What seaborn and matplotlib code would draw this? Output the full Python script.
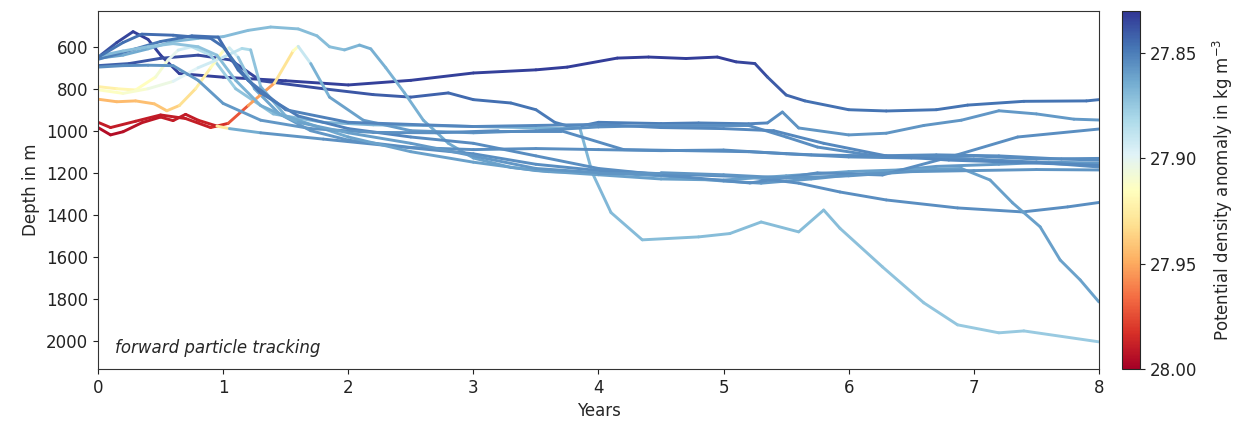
import matplotlib
matplotlib.use("Agg")
import matplotlib.pyplot as plt
import numpy as np
import seaborn as sns
from matplotlib.collections import LineCollection
from matplotlib.colors import Normalize
from matplotlib.cm import ScalarMappable

# (years, depth in m, potential density anomaly)
track_01 = [(0.00, 650, 27.840), (0.15, 580, 27.835), (0.28, 528, 27.833), (0.40, 565, 27.833),
            (0.50, 640, 27.833), (0.65, 728, 27.833), (1.00, 745, 27.833), (1.50, 762, 27.833),
            (2.00, 782, 27.833), (2.50, 760, 27.833), (3.00, 725, 27.833), (3.50, 710, 27.833),
            (3.75, 697, 27.832), (4.15, 654, 27.832), (4.40, 649, 27.832), (4.70, 656, 27.832),
            (4.95, 649, 27.832), (5.10, 672, 27.833), (5.25, 680, 27.835), (5.35, 744, 27.838),
            (5.50, 830, 27.842), (5.65, 858, 27.845), (6.00, 900, 27.847), (6.30, 906, 27.847),
            (6.70, 900, 27.847), (6.95, 878, 27.847), (7.40, 860, 27.847), (7.90, 858, 27.847),
            (8.00, 852, 27.847)]
track_02 = [(0.00, 690, 27.845), (0.25, 680, 27.840), (0.50, 655, 27.838), (0.80, 640, 27.836),
            (1.06, 663, 27.835), (1.30, 762, 27.835), (1.80, 800, 27.838), (2.20, 828, 27.840),
            (2.50, 840, 27.842), (2.80, 820, 27.843), (3.00, 852, 27.845), (3.30, 868, 27.846),
            (3.50, 900, 27.848), (3.65, 960, 27.850), (3.80, 985, 27.850), (4.00, 960, 27.850),
            (4.50, 966, 27.850), (4.80, 963, 27.850), (5.20, 967, 27.852), (5.35, 963, 27.853),
            (5.47, 911, 27.856), (5.60, 987, 27.857), (6.00, 1020, 27.857), (6.30, 1012, 27.857),
            (6.60, 975, 27.857), (6.90, 950, 27.857), (7.20, 905, 27.858), (7.50, 920, 27.858),
            (7.80, 945, 27.858), (8.00, 949, 27.858)]
track_03 = [(0.00, 655, 27.860), (0.20, 640, 27.862), (0.40, 610, 27.865), (0.60, 575, 27.867),
            (0.80, 560, 27.868), (1.00, 552, 27.869), (1.20, 522, 27.870), (1.38, 506, 27.870),
            (1.60, 515, 27.870), (1.75, 548, 27.870), (1.85, 600, 27.870), (1.97, 615, 27.870),
            (2.09, 592, 27.865), (2.18, 610, 27.865), (2.30, 700, 27.866), (2.45, 820, 27.866),
            (2.60, 950, 27.865), (2.80, 1060, 27.864), (3.00, 1130, 27.862), (3.30, 1175, 27.860),
            (3.60, 1195, 27.859), (4.00, 1200, 27.858), (4.50, 1215, 27.858), (5.00, 1240, 27.858),
            (5.30, 1250, 27.858), (5.70, 1230, 27.858), (6.20, 1200, 27.858), (6.70, 1170, 27.858),
            (7.20, 1160, 27.858), (7.60, 1150, 27.858), (8.00, 1154, 27.858)]
track_04 = [(0.00, 790, 27.925), (0.15, 800, 27.922), (0.30, 806, 27.918), (0.46, 744, 27.912),
            (0.56, 663, 27.905), (0.64, 616, 27.898), (0.75, 600, 27.888), (0.90, 640, 27.880),
            (1.10, 800, 27.874), (1.40, 920, 27.870), (1.80, 960, 27.868), (2.20, 972, 27.866),
            (2.60, 975, 27.866), (3.00, 980, 27.866), (3.40, 985, 27.866), (3.70, 990, 27.866),
            (3.85, 985, 27.867), (3.95, 1200, 27.868), (4.10, 1390, 27.869), (4.35, 1520, 27.870),
            (4.80, 1506, 27.870), (5.05, 1490, 27.870), (5.30, 1435, 27.870), (5.60, 1482, 27.870),
            (5.80, 1378, 27.870), (5.93, 1465, 27.871), (6.27, 1649, 27.872), (6.60, 1820, 27.873),
            (6.87, 1925, 27.874), (7.20, 1963, 27.875), (7.40, 1954, 27.875), (8.00, 2006, 27.876)]
track_05 = [(0.00, 850, 27.945), (0.15, 862, 27.945), (0.30, 858, 27.944), (0.45, 872, 27.943),
            (0.55, 905, 27.940), (0.65, 880, 27.935), (0.78, 800, 27.928), (0.90, 700, 27.920),
            (1.00, 620, 27.912), (1.05, 605, 27.905), (1.12, 650, 27.880), (1.25, 800, 27.865),
            (1.45, 920, 27.860), (1.70, 1000, 27.858), (2.00, 1045, 27.857), (2.50, 1080, 27.856),
            (3.00, 1090, 27.855), (3.50, 1085, 27.855), (4.00, 1090, 27.855), (4.50, 1095, 27.855),
            (5.00, 1092, 27.855), (5.50, 1110, 27.855), (6.00, 1125, 27.855), (6.50, 1130, 27.855),
            (7.00, 1120, 27.855), (7.50, 1135, 27.855), (8.00, 1132, 27.855)]
track_06 = [(0.00, 960, 27.990), (0.10, 985, 27.990), (0.30, 955, 27.990), (0.50, 925, 27.990),
            (0.70, 942, 27.990), (0.90, 985, 27.988), (1.04, 965, 27.980), (1.20, 880, 27.965),
            (1.41, 773, 27.940), (1.56, 620, 27.920), (1.60, 598, 27.910), (1.70, 680, 27.870),
            (1.85, 840, 27.862), (2.12, 950, 27.860), (2.50, 1000, 27.858), (3.00, 1010, 27.857),
            (3.50, 1000, 27.856), (4.00, 982, 27.855), (4.50, 975, 27.855), (5.20, 975, 27.855),
            (5.50, 1030, 27.855), (5.75, 1078, 27.855), (6.27, 1125, 27.855), (6.70, 1130, 27.855),
            (7.00, 1135, 27.855), (7.50, 1150, 27.855), (8.00, 1173, 27.855)]
track_07 = [(0.00, 985, 27.995), (0.10, 1020, 27.995), (0.20, 1005, 27.995), (0.35, 962, 27.993),
            (0.50, 935, 27.990), (0.60, 952, 27.990), (0.70, 922, 27.990), (0.80, 950, 27.990),
            (0.95, 978, 27.985), (1.05, 990, 27.870), (1.30, 1010, 27.858), (1.80, 1040, 27.856),
            (2.30, 1070, 27.855), (3.00, 1110, 27.855), (3.50, 1160, 27.855), (4.00, 1190, 27.855),
            (4.50, 1205, 27.855), (5.20, 1220, 27.855), (5.60, 1250, 27.855), (5.93, 1292, 27.855),
            (6.30, 1330, 27.855), (6.87, 1368, 27.855), (7.39, 1387, 27.855), (7.75, 1363, 27.855),
            (8.00, 1342, 27.855)]
track_08 = [(0.00, 805, 27.915), (0.20, 822, 27.913), (0.40, 800, 27.908), (0.60, 765, 27.902),
            (0.80, 700, 27.896), (1.00, 650, 27.890), (1.15, 608, 27.885), (1.22, 615, 27.878),
            (1.30, 790, 27.868), (1.50, 930, 27.864), (2.00, 1030, 27.862), (2.50, 1100, 27.860),
            (3.00, 1150, 27.860), (3.50, 1190, 27.860), (4.00, 1210, 27.860), (4.50, 1230, 27.860),
            (5.00, 1235, 27.860), (5.50, 1215, 27.860), (6.00, 1195, 27.860), (6.50, 1185, 27.860),
            (6.90, 1180, 27.860), (7.13, 1235, 27.860), (7.31, 1344, 27.860), (7.53, 1458, 27.860),
            (7.69, 1616, 27.861), (7.85, 1711, 27.861), (8.00, 1816, 27.861)]
track_09 = [(0.00, 660, 27.850), (0.30, 610, 27.850), (0.50, 575, 27.848), (0.75, 548, 27.846),
            (0.96, 554, 27.845), (1.12, 711, 27.845), (1.30, 820, 27.848), (1.60, 930, 27.850),
            (2.00, 990, 27.852), (2.50, 1030, 27.853), (3.00, 1060, 27.854), (3.50, 1120, 27.855),
            (4.00, 1180, 27.855), (4.50, 1210, 27.855), (5.21, 1249, 27.855), (5.75, 1201, 27.855),
            (6.27, 1211, 27.855), (6.81, 1125, 27.855), (7.35, 1030, 27.855), (8.00, 992, 27.855)]
track_10 = [(0.00, 697, 27.855), (0.20, 690, 27.855), (0.40, 688, 27.855), (0.60, 690, 27.857),
            (0.80, 760, 27.858), (1.00, 870, 27.858), (1.30, 950, 27.858), (1.70, 990, 27.857),
            (2.20, 1008, 27.856), (2.70, 1010, 27.855), (3.20, 1000, 27.854), (3.70, 1000, 27.854),
            (4.20, 1090, 27.854), (4.70, 1095, 27.854), (5.20, 1100, 27.854), (5.70, 1115, 27.854),
            (6.20, 1120, 27.854), (6.70, 1115, 27.854), (7.20, 1120, 27.854), (7.70, 1135, 27.854),
            (8.00, 1140, 27.854)]
track_11 = [(0.00, 645, 27.868), (0.20, 620, 27.870), (0.40, 600, 27.872), (0.60, 585, 27.873),
            (0.80, 600, 27.873), (0.95, 640, 27.872), (1.10, 760, 27.868), (1.30, 880, 27.865),
            (1.60, 960, 27.862), (2.00, 1010, 27.860), (2.50, 1060, 27.859), (3.00, 1120, 27.858),
            (3.50, 1180, 27.857), (4.00, 1200, 27.857), (4.50, 1200, 27.857), (5.00, 1210, 27.857),
            (5.50, 1225, 27.857), (6.00, 1215, 27.857), (6.50, 1195, 27.857), (7.00, 1190, 27.857),
            (7.50, 1185, 27.857), (8.00, 1187, 27.857)]
track_12 = [(0.00, 650, 27.848), (0.20, 580, 27.846), (0.35, 540, 27.845), (0.60, 545, 27.845),
            (0.90, 560, 27.846), (1.00, 600, 27.846), (1.20, 760, 27.848), (1.50, 900, 27.850),
            (2.00, 960, 27.852), (3.00, 980, 27.853), (3.50, 975, 27.853), (4.00, 970, 27.853),
            (4.50, 985, 27.853), (5.00, 990, 27.853), (5.40, 1000, 27.853), (5.80, 1060, 27.853),
            (6.30, 1120, 27.853), (6.80, 1140, 27.853), (7.30, 1150, 27.853), (8.00, 1165, 27.853)]

tracks = [track_01, track_02, track_03, track_04, track_05, track_06,
          track_07, track_08, track_09, track_10, track_11, track_12]

sns.set_style("ticks")
plt.rcParams['font.family'] = ['DejaVu Sans']

cmap = sns.color_palette("RdYlBu_r", as_cmap=True)
norm = Normalize(vmin=27.83, vmax=28.0)

fig = plt.figure(figsize=(12.44, 4.26), dpi=100)
ax = fig.add_axes([0.0788, 0.134, 0.8046, 0.840])
cax = fig.add_axes([0.902, 0.134, 0.0145, 0.840])

for tr in tracks:
    arr = np.array(tr, dtype=float)
    pts = arr[:, :2].reshape(-1, 1, 2)
    segs = np.concatenate([pts[:-1], pts[1:]], axis=1)
    lc = LineCollection(segs, cmap=cmap, norm=norm, linewidths=2.1,
                        capstyle='round', joinstyle='round')
    lc.set_array((arr[:-1, 2] + arr[1:, 2]) / 2)
    ax.add_collection(lc)

ax.set_xlim(0, 8)
ax.set_ylim(2135, 430)
ax.set_yticks(np.arange(600, 2001, 200))
ax.set_xticks(np.arange(0, 9, 1))
ax.tick_params(labelsize=12, colors='#222222')
ax.set_xlabel('Years', fontsize=12)
ax.set_ylabel('Depth in m', fontsize=12)
ax.text(0.017, 0.045, 'forward particle tracking', style='italic', fontsize=12,
        transform=ax.transAxes)
for s in ax.spines.values():
    s.set_visible(True)
    s.set_color('#333333')

cb = fig.colorbar(ScalarMappable(norm=norm, cmap=cmap), cax=cax)
cb.set_ticks([27.85, 27.90, 27.95, 28.00])
cb.ax.set_yticklabels(['27.85', '27.90', '27.95', '28.00'])
cb.ax.invert_yaxis()
cb.ax.tick_params(labelsize=12, colors='#222222')
cb.set_label('Potential density anomaly in kg m$^{-3}$', fontsize=12, labelpad=10)

fig.savefig('out.png', dpi=100)
